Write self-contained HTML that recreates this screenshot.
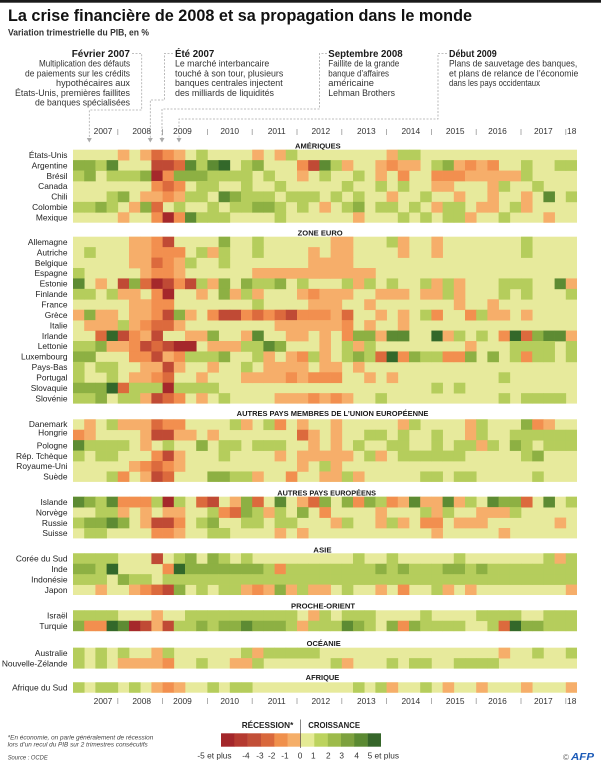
<!DOCTYPE html>
<html><head><meta charset="utf-8"><style>
html,body{margin:0;padding:0;background:#fff;}
svg{display:block;font-family:"Liberation Sans",sans-serif;}
.lab{font-size:8.4px;fill:#222;text-anchor:end;}
.yr{font-size:8.4px;fill:#333;text-anchor:middle;}
.an{font-size:9.3px;fill:#333;}
.at{font-size:10.5px;fill:#1a1a1a;font-weight:bold;}
.gh{font-size:7.2px;fill:#1a1a1a;font-weight:bold;}
.lg{font-size:8.3px;fill:#333;text-anchor:middle;}
.dash{fill:none;stroke:#aaa;stroke-width:0.8;stroke-dasharray:2 1.5;}
.tk{stroke:#999;stroke-width:0.8;}
</style></head><body>
<svg id="s" width="601" height="768" viewBox="0 0 601 768" xmlns="http://www.w3.org/2000/svg">
<rect x="0" y="0" width="601" height="768" fill="#fff"/>
<rect x="0" y="0" width="601" height="2.7" fill="#1a1a1a"/>
<text x="8" y="21" font-size="17" font-weight="bold" fill="#111" textLength="464" lengthAdjust="spacingAndGlyphs">La crise financière de 2008 et sa propagation dans le monde</text>
<text x="8" y="35.5" font-size="9" font-weight="bold" fill="#333" textLength="141" lengthAdjust="spacingAndGlyphs">Variation trimestrielle du PIB, en %</text>

<!-- annotations -->
<text class="at" x="130" y="57" text-anchor="end" textLength="58.3" lengthAdjust="spacingAndGlyphs">Février 2007</text>
<text class="an" x="130" y="66.5" text-anchor="end" textLength="91" lengthAdjust="spacingAndGlyphs">Multiplication des défauts</text>
<text class="an" x="130" y="76.3" text-anchor="end" textLength="105" lengthAdjust="spacingAndGlyphs">de paiements sur les crédits</text>
<text class="an" x="130" y="86.1" text-anchor="end" textLength="74" lengthAdjust="spacingAndGlyphs">hypothécaires aux</text>
<text class="an" x="130" y="95.9" text-anchor="end" textLength="115" lengthAdjust="spacingAndGlyphs">États-Unis, premières faillites</text>
<text class="an" x="130" y="105.6" text-anchor="end" textLength="95" lengthAdjust="spacingAndGlyphs">de banques spécialisées</text>

<text class="at" x="175" y="57" textLength="39.3" lengthAdjust="spacingAndGlyphs">Été 2007</text>
<text class="an" x="175" y="66.5" textLength="94.3" lengthAdjust="spacingAndGlyphs">Le marché interbancaire</text>
<text class="an" x="175" y="76.3" textLength="108.3" lengthAdjust="spacingAndGlyphs">touché à son tour, plusieurs</text>
<text class="an" x="175" y="86.1" textLength="107.7" lengthAdjust="spacingAndGlyphs">banques centrales injectent</text>
<text class="an" x="175" y="95.9" textLength="99" lengthAdjust="spacingAndGlyphs">des milliards de liquidités</text>

<text class="at" x="328.3" y="57" textLength="74.3" lengthAdjust="spacingAndGlyphs">Septembre 2008</text>
<text class="an" x="328.3" y="66.5" textLength="71" lengthAdjust="spacingAndGlyphs">Faillite de la grande</text>
<text class="an" x="328.3" y="76.3" textLength="60.7" lengthAdjust="spacingAndGlyphs">banque d’affaires</text>
<text class="an" x="328.3" y="86.1" textLength="45.7" lengthAdjust="spacingAndGlyphs">américaine</text>
<text class="an" x="328.3" y="95.9" textLength="66.7" lengthAdjust="spacingAndGlyphs">Lehman Brothers</text>

<text class="at" x="449" y="57" textLength="47.7" lengthAdjust="spacingAndGlyphs">Début 2009</text>
<text class="an" x="449" y="66.5" textLength="128.3" lengthAdjust="spacingAndGlyphs">Plans de sauvetage des banques,</text>
<text class="an" x="449" y="76.3" textLength="129.3" lengthAdjust="spacingAndGlyphs">et plans de relance de l’économie</text>
<text class="an" x="449" y="86.1" textLength="91" lengthAdjust="spacingAndGlyphs">dans les pays occidentaux</text>

<path class="dash" d="M132,53.5 H141.7 V110 H89.3 V138"/>
<path class="dash" d="M173,53.5 H164.5 V100 H150.3 V138"/>
<path class="dash" d="M327,53.5 H319.5 V109 H162 V138"/>
<path class="dash" d="M447,53.5 H438 V119 H179 V138"/>
<g fill="#aaa">
<polygon points="86.8,138 91.8,138 89.3,142.5"/>
<polygon points="147.8,138 152.8,138 150.3,142.5"/>
<polygon points="159.5,138 164.5,138 162,142.5"/>
<polygon points="176.5,138 181.5,138 179,142.5"/>
</g>

<!-- top years -->
<g class="yr">
<text x="103" y="134">2007</text><text x="141.7" y="134">2008</text><text x="182.5" y="134">2009</text><text x="229.7" y="134">2010</text><text x="276.7" y="134">2011</text><text x="320.8" y="134">2012</text><text x="366.3" y="134">2013</text><text x="410.8" y="134">2014</text><text x="455.2" y="134">2015</text><text x="497.5" y="134">2016</text><text x="543.3" y="134">2017</text><text x="571.7" y="134">18</text>
</g>
<g class="tk">
<line x1="117.8" y1="129" x2="117.8" y2="135"/><line x1="162.6" y1="129" x2="162.6" y2="135"/><line x1="207.4" y1="129" x2="207.4" y2="135"/><line x1="252.2" y1="129" x2="252.2" y2="135"/><line x1="297" y1="129" x2="297" y2="135"/><line x1="341.8" y1="129" x2="341.8" y2="135"/><line x1="386.6" y1="129" x2="386.6" y2="135"/><line x1="431.4" y1="129" x2="431.4" y2="135"/><line x1="476.2" y1="129" x2="476.2" y2="135"/><line x1="521" y1="129" x2="521" y2="135"/><line x1="565.8" y1="129" x2="565.8" y2="135"/>
</g>

<!-- bottom years -->
<g class="yr">
<text x="103" y="704">2007</text><text x="141.7" y="704">2008</text><text x="182.5" y="704">2009</text><text x="229.7" y="704">2010</text><text x="276.7" y="704">2011</text><text x="320.8" y="704">2012</text><text x="366.3" y="704">2013</text><text x="410.8" y="704">2014</text><text x="455.2" y="704">2015</text><text x="497.5" y="704">2016</text><text x="543.3" y="704">2017</text><text x="571.7" y="704">18</text>
</g>
<g class="tk">
<line x1="117.8" y1="698" x2="117.8" y2="704"/><line x1="162.6" y1="698" x2="162.6" y2="704"/><line x1="207.4" y1="698" x2="207.4" y2="704"/><line x1="252.2" y1="698" x2="252.2" y2="704"/><line x1="297" y1="698" x2="297" y2="704"/><line x1="341.8" y1="698" x2="341.8" y2="704"/><line x1="386.6" y1="698" x2="386.6" y2="704"/><line x1="431.4" y1="698" x2="431.4" y2="704"/><line x1="476.2" y1="698" x2="476.2" y2="704"/><line x1="521" y1="698" x2="521" y2="704"/><line x1="565.8" y1="698" x2="565.8" y2="704"/>
</g>

<!-- group headers -->
<g class="gh">
<text x="295" y="148.3" textLength="45.7" lengthAdjust="spacingAndGlyphs">AMÉRIQUES</text>
<text x="297.7" y="235.5" textLength="45" lengthAdjust="spacingAndGlyphs">ZONE EURO</text>
<text x="236.7" y="416" textLength="191.7" lengthAdjust="spacingAndGlyphs">AUTRES PAYS MEMBRES DE L’UNION EUROPÉENNE</text>
<text x="277.3" y="495.3" textLength="98.7" lengthAdjust="spacingAndGlyphs">AUTRES PAYS EUROPÉENS</text>
<text x="313.3" y="552.3" textLength="18.3" lengthAdjust="spacingAndGlyphs">ASIE</text>
<text x="291" y="608.3" textLength="64" lengthAdjust="spacingAndGlyphs">PROCHE-ORIENT</text>
<text x="306.7" y="646" textLength="34" lengthAdjust="spacingAndGlyphs">OCÉANIE</text>
<text x="305.7" y="680" textLength="33.6" lengthAdjust="spacingAndGlyphs">AFRIQUE</text>
</g>

<!-- base blocks -->
<g fill="#e7ea9c">
<rect x="73" y="149.7" width="504" height="73"/>
<rect x="73" y="236.7" width="504" height="166.9"/>
<rect x="73" y="419.3" width="504" height="62.6"/>
<rect x="73" y="496.7" width="504" height="41.7"/>
<rect x="73" y="553.3" width="504" height="41.7"/>
<rect x="73" y="610.3" width="504" height="20.9"/>
<rect x="73" y="647.7" width="504" height="20.9"/>
<rect x="73" y="682.3" width="504" height="10.4"/>
</g>
<g id="cells"></g>

<!-- row labels -->
<g class="lab">
<text x="67.5" y="157.9">États-Unis</text>
<text x="67.5" y="168.3">Argentine</text>
<text x="67.5" y="178.8">Brésil</text>
<text x="67.5" y="189.2">Canada</text>
<text x="67.5" y="199.6">Chili</text>
<text x="67.5" y="210.1">Colombie</text>
<text x="67.5" y="220.5">Mexique</text>

<text x="67.5" y="244.9">Allemagne</text>
<text x="67.5" y="255.3">Autriche</text>
<text x="67.5" y="265.8">Belgique</text>
<text x="67.5" y="276.2">Espagne</text>
<text x="67.5" y="286.6">Estonie</text>
<text x="67.5" y="297.1">Finlande</text>
<text x="67.5" y="307.5">France</text>
<text x="67.5" y="317.9">Grèce</text>
<text x="67.5" y="328.4">Italie</text>
<text x="67.5" y="338.8">Irlande</text>
<text x="67.5" y="349.2">Lettonie</text>
<text x="67.5" y="359.7">Luxembourg</text>
<text x="67.5" y="370.1">Pays-Bas</text>
<text x="67.5" y="380.5">Portugal</text>
<text x="67.5" y="391">Slovaquie</text>
<text x="67.5" y="401.4">Slovénie</text>

<text x="67.5" y="426.8">Danemark</text>
<text x="67.5" y="435.5">Hongrie</text>
<text x="67.5" y="448.4">Pologne</text>
<text x="67.5" y="458.8">Rép. Tchèque</text>
<text x="67.5" y="469.2">Royaume-Uni</text>
<text x="67.5" y="479.7">Suède</text>

<text x="67.5" y="504.9">Islande</text>
<text x="67.5" y="515.3">Norvège</text>
<text x="67.5" y="525.8">Russie</text>
<text x="67.5" y="536.2">Suisse</text>

<text x="67.5" y="561.5">Corée du Sud</text>
<text x="67.5" y="571.9">Inde</text>
<text x="67.5" y="582.4">Indonésie</text>
<text x="67.5" y="592.8">Japon</text>

<text x="67.5" y="618.5">Israël</text>
<text x="67.5" y="628.9">Turquie</text>

<text x="67.5" y="655.9">Australie</text>
<text x="67.5" y="666.3">Nouvelle-Zélande</text>

<text x="67.5" y="690.5">Afrique du Sud</text>
</g>

<!-- legend -->
<text x="241.7" y="728" font-size="8.5" font-weight="bold" fill="#222" textLength="51.6" lengthAdjust="spacingAndGlyphs">RÉCESSION*</text>
<text x="308.3" y="728" font-size="8.5" font-weight="bold" fill="#222" textLength="51.7" lengthAdjust="spacingAndGlyphs">CROISSANCE</text>
<g>
<rect x="221" y="733.3" width="13.6" height="13.4" fill="#a3262a"/>
<rect x="234.3" y="733.3" width="13.6" height="13.4" fill="#b53a30"/>
<rect x="247.7" y="733.3" width="13.6" height="13.4" fill="#c24f37"/>
<rect x="261" y="733.3" width="13.6" height="13.4" fill="#d9683c"/>
<rect x="274.3" y="733.3" width="13.6" height="13.4" fill="#f0904c"/>
<rect x="287.7" y="733.3" width="13.6" height="13.4" fill="#f5ae68"/>
<rect x="301" y="733.3" width="13.6" height="13.4" fill="#e5ea95"/>
<rect x="314.3" y="733.3" width="13.6" height="13.4" fill="#bcd35e"/>
<rect x="327.7" y="733.3" width="13.6" height="13.4" fill="#9dbb4b"/>
<rect x="341" y="733.3" width="13.6" height="13.4" fill="#7da13f"/>
<rect x="354.3" y="733.3" width="13.6" height="13.4" fill="#5b8a33"/>
<rect x="367.7" y="733.3" width="13.3" height="13.4" fill="#36662a"/>
</g>
<line x1="300.5" y1="719.5" x2="300.5" y2="748" stroke="#555" stroke-width="0.7"/>
<g class="lg">
<text x="214.5" y="758.5">-5 et plus</text>
<text x="246" y="758.5">-4</text>
<text x="260" y="758.5">-3</text>
<text x="271.7" y="758.5">-2</text>
<text x="285" y="758.5">-1</text>
<text x="300" y="758.5">0</text>
<text x="313.3" y="758.5">1</text>
<text x="328.3" y="758.5">2</text>
<text x="341.7" y="758.5">3</text>
<text x="356.7" y="758.5">4</text>
<text x="383.3" y="758.5">5 et plus</text>
</g>

<!-- footnotes -->
<text x="7.7" y="739.5" font-size="6.3" font-style="italic" fill="#444" textLength="145.6" lengthAdjust="spacingAndGlyphs">*En économie, on parle généralement de récession</text>
<text x="7.7" y="746.5" font-size="6.3" font-style="italic" fill="#444" textLength="140" lengthAdjust="spacingAndGlyphs">lors d’un recul du PIB sur 2 trimestres consécutifs</text>
<text x="7.7" y="759.5" font-size="6.5" font-style="italic" fill="#444" textLength="40" lengthAdjust="spacingAndGlyphs">Source : OCDE</text>
<text x="563" y="760" font-size="8" fill="#666">©</text>
<text x="571" y="760" font-size="10" font-weight="bold" font-style="italic" fill="#1c5bb8" textLength="23" lengthAdjust="spacingAndGlyphs">AFP</text>
</svg>
<script>
(function(){
var P={Y:'#e7ea9c',g:'#b5cd5c',G:'#8db043',M:'#5d8b33',N:'#33682a',o:'#f6ae6a',O:'#f28f4f',D:'#dc6a3d',R:'#c04a35',K:'#a5282b'};
var X0=73,CW=11.2,RH=10.43;
var B=[
[149.7,[
"YYYYoYoDOoYgYYYYoYogYY"+"YYYYYYoggYYYYYYYYYYYYYY",
"GGgMYYYRRDMgMNYgGYYYOR"+"MgoYYoOooYgGoOoOYYgYYgg",
"gGYgggGKOGGGggggYgYYoY"+"gYYgYoYOYYOOOooooogYYYY",
"YYYYYYYODOYggYYgYYgYYY"+"YYgYYgYgYYooYYYogYYgYYY",
"YYYgGYooOoggYMGgggYggg"+"YgYgYYoYYgYYoYYoYYoYMYg",
"ggGgYoGDYgYYgYggGGgYgY"+"oYgGYggYgYoggYooYgoYYYY",
"YYYYoYYOKOMgggYYYYgYYY"+"YYYoYYYgYgYggoYYgYYYoYY"]],
[236.7,[
"YYYYYooORYYYYGYYgYYYYY"+"YooYYYgoYYoYYYYYYYgYYYY",
"YgYYYooOOOYgogYYgYYYYo"+"YooYYYYoYYoYYYYYYYgYYYY",
"YYYYYooDOogYYgYYYYYYYo"+"oooYYYYYYYYYYYYYYYYYYYY",
"gYYYYYoOOoYYYYYYoooooo"+"oooooYYYYYYYYYYYYYYYYYY",
"MYoYRGDKRORgoGYGggGYgY"+"YYgogYgYYgogoYYYgggYYMo",
"ggYgooYOKYYoYGogoYYYoO"+"oooYYoooYoogoYYYgYgYYYg",
"YYYYYooOOYYYYYYYgYYYYo"+"ooYYoYYYYYYYoYYoYYYYYYY",
"oGooYooORGoYORRODODROO"+"OoDYYoYoYgOYYOgooYoYYYY",
"YooogoODDoYYYYYYYYoooo"+"ooOYoYYoYYYYYYYYYYYYYYY",
"YYDNROoRYYooGYYoMYYooY"+"oYOGGoMMYYNogYgYONDGMMo",
"ggGooORDRKKYoooggMGYYY"+"oYgogYYYYYYYYoYYYggggYg",
"GGYYYOORoOgggGYYgoYoOg"+"oYgGgDNOGggOOGYGYgOggYg",
"gYggYYooRoYYoYYgYooooY"+"ooYoYYYYYYYYYYYYYYYYYYY",
"gYYgYooODYYoYYYooooOoO"+"OOYYoYoYYYYYYYYYgYYYYYY",
"GGGNDgggKggggYYYYYYYYY"+"YYYYYYYYYYgYgYYYYYYYYYY",
"ggGYggoRDOYoYgYYYYoooO"+"oOoYYgYYYYYYYYYYgYggggY"]],
[419.3,[
"YoYgoooDOOYYYYgoYgOYoY"+"YoYYYYYogYYYYogYYYGOoYY",
"OoYYYYoRRooYoYYYYYYYDo"+"YoYYggYgYYgYYogYYgggggg",
"MggggYoYgYYGYggYgggYYo"+"YoYgYYggYYgYggogYGgYggg",
"gYggYYYORoYYYgYYYYoYoo"+"oooYgoYggggggYYYYYgGYYY",
"YYYYYoODOoYYYYYYYYYYoY"+"goYYYYYYYYYYYYYYYYYYYYY",
"YYYgOYoRDYYYGGggoYYOYY"+"oogoYYYYYggYggYYYYYgYYY"]],
[496.7,[
"MGgMOOOgKgYDRYoGDYMYoD"+"GYGOGgOoMooMogYMGGDYMYg",
"YYggoYoYooYYgODGgogYGY"+"OYYYYoYYYgogYYooogYYYYY",
"gGGMGYoRROYgGYYggYggYY"+"YogYYogoYOOYoooYYYYYYoY",
"YggYYYYOOoYYggYYYYoYoY"+"YYYYYYYYYYoYYYYYoYYYYYY"]],
[553.3,[
"ggggYYYRYgGYGgYgYYYYYY"+"YYYgYYgYYYYYgYYYYYYYgog",
"GGgNYYYYONGGGGGGGgOggg"+"gggggGgGgggGGgGgggggggg",
"gggYGggYgggggggggggggg"+"ggggggggggggggggggggggg",
"YYoYYoODRGYgYggoOoGogo"+"oYgYYoYOYYgoYoYYYYYYYYo"]],
[610.3,[
"ggggYYYoYYggggggggggYo"+"gYgggYYYYgYYYYggggYYggg",
"GOONMKRoRggGgGGMGGGgog"+"ggMGgYGOGggggYYgDNGGggg"]],
[647.7,[
"gYgYgYYogYYYYYYgoggggg"+"YYYYYYYYYYYYYYYYoYYgYYg",
"gYgYooooOYYgYYoogYYYYY"+"YgoYYYgYggYYggggYYYYYYY"]],
[682.3,[
"gYggYgYoOoYYgYggYYYYYY"+"YYYgYgoYYgYoYYoYYYoYYYo"]]
];
var ns='http://www.w3.org/2000/svg',g=document.getElementById('cells');
for(var b=0;b<B.length;b++){var top=B[b][0],rows=B[b][1];
 for(var i=0;i<rows.length;i++){var s=rows[i],y=top+i*RH;
  for(var c=0;c<45;c++){var ch=s.charAt(c)||'Y';if(ch==='Y')continue;
   var r=document.createElementNS(ns,'rect');
   r.setAttribute('x',(X0+c*CW).toFixed(2));r.setAttribute('y',y.toFixed(2));
   r.setAttribute('width',(c==44?CW:CW+0.35).toFixed(2));
   r.setAttribute('height',(i==rows.length-1?RH:RH+0.35).toFixed(2));
   r.setAttribute('fill',P[ch]||P.Y);g.appendChild(r);}
 }}
})();
</script>
</body></html>
